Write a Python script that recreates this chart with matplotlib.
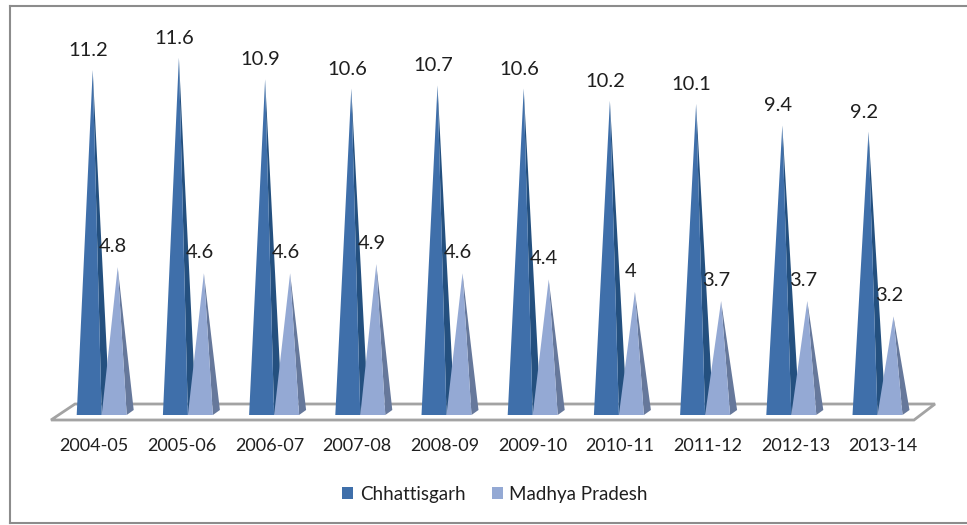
#!/usr/bin/env python3
"""Pyramid columns for Chhattisgarh and Madhya Pradesh, 2004-05 to 2013-14."""

import matplotlib
matplotlib.use("Agg")
import matplotlib.pyplot as plt
from matplotlib.lines import Line2D
from matplotlib.patches import Patch, Polygon

years = ["2004-05", "2005-06", "2006-07", "2007-08", "2008-09",
         "2009-10", "2010-11", "2011-12", "2012-13", "2013-14"]
chhattisgarh = [11.2, 11.6, 10.9, 10.6, 10.7, 10.6, 10.2, 10.1, 9.4, 9.2]
madhya_pradesh = [4.8, 4.6, 4.6, 4.9, 4.6, 4.4, 4.0, 3.7, 3.7, 3.2]

WIDTH, HEIGHT = 967, 525
GROUP_PX = 86.2   # px per category
UNIT_PX = 30.8    # px per value unit
BASE_Y = 415      # px of value 0, from the top
FIRST_X = 101.7   # px of the first category
TEXT = "#1f1f1f"


def px_x(dx):
    return dx / GROUP_PX


def px_y(dy):
    return dy / UNIT_PX


def pyramid(ax, x_left, value, front, side, depth):
    """One pyramid: the side face behind, then the front face."""
    w = px_x(25)
    tip = (x_left + w / 2 + px_x(3.5), value)
    right = (x_left + w, 0)
    back = (x_left + w + px_x(depth), px_y(5))
    ax.add_patch(Polygon([right, back, tip], closed=True, fc=side, ec="none",
                         clip_on=False, zorder=3))
    ax.add_patch(Polygon([(x_left, 0), right, tip], closed=True, fc=front, ec="none",
                         clip_on=False, zorder=3))


plt.rcParams["font.family"] = ["Lato", "DejaVu Sans"]

fig = plt.figure(figsize=(WIDTH / 100, HEIGHT / 100), dpi=100)
ax = fig.add_axes([0, 1 - BASE_Y / HEIGHT, 1, (BASE_Y - 7) / HEIGHT])
ax.set_xlim(-FIRST_X / GROUP_PX, (WIDTH - FIRST_X) / GROUP_PX)
ax.set_ylim(0, (BASE_Y - 7) / UNIT_PX)
for spine in ax.spines.values():
    spine.set_visible(False)
ax.set_yticks([])

# frame: left, top and bottom edges only, running off the right side
for xs, ys in [((0.0105, 0.0105), (0.003, 0.988)),
               ((0.0105, 1.0), (0.988, 0.988)),
               ((0.0105, 1.0), (0.003, 0.003))]:
    fig.add_artist(Line2D(xs, ys, color="#8c8c8c", lw=1.5))

# floor of the 3D plot
floor = [(px_x(51 - FIRST_X), px_y(-5)), (px_x(75 - FIRST_X), px_y(11)),
         (px_x(935 - FIRST_X), px_y(11)), (px_x(914 - FIRST_X), px_y(-5))]
ax.add_patch(Polygon(floor, closed=True, fc="white", ec="#a3a3a3", lw=2,
                     clip_on=False, zorder=1))

for i, (a, b) in enumerate(zip(chhattisgarh, madhya_pradesh)):
    pyramid(ax, i - px_x(25), a, "#3f6faa", "#24507f", 8)
    pyramid(ax, i, b, "#94a9d4", "#66789b", 7)
    ax.annotate(f"{a:g}", (i - px_x(13.5), a), xytext=(0, 19.5 * 0.72),
                textcoords="offset points", ha="center", va="center",
                fontsize=14.5, color=TEXT, zorder=5, annotation_clip=False)
    ax.annotate(f"{b:g}", (i + px_x(11.5), b), xytext=(0, 20.5 * 0.72),
                textcoords="offset points", ha="center", va="center",
                fontsize=14.5, color=TEXT, zorder=5, annotation_clip=False)

# category labels run on a slightly wider spacing than the columns
ax.set_xticks([px_x(94 - FIRST_X) + i * 87.7 / GROUP_PX for i in range(len(years))])
ax.set_xticklabels(years, fontsize=13, color=TEXT)
ax.tick_params(axis="x", length=0, pad=16.5)

handles = [Patch(fc="#3f6faa", label="Chhattisgarh"),
           Patch(fc="#94a9d4", label="Madhya Pradesh")]
fig.legend(handles=handles, loc="center", bbox_to_anchor=(495 / WIDTH, 1 - 494.5 / HEIGHT),
           ncol=2, frameon=False, fontsize=13.5, handlelength=0.58, handleheight=0.62,
           handletextpad=0.35, columnspacing=1.4, labelcolor=TEXT)

fig.savefig("out.png", dpi=100)
plt.close(fig)
